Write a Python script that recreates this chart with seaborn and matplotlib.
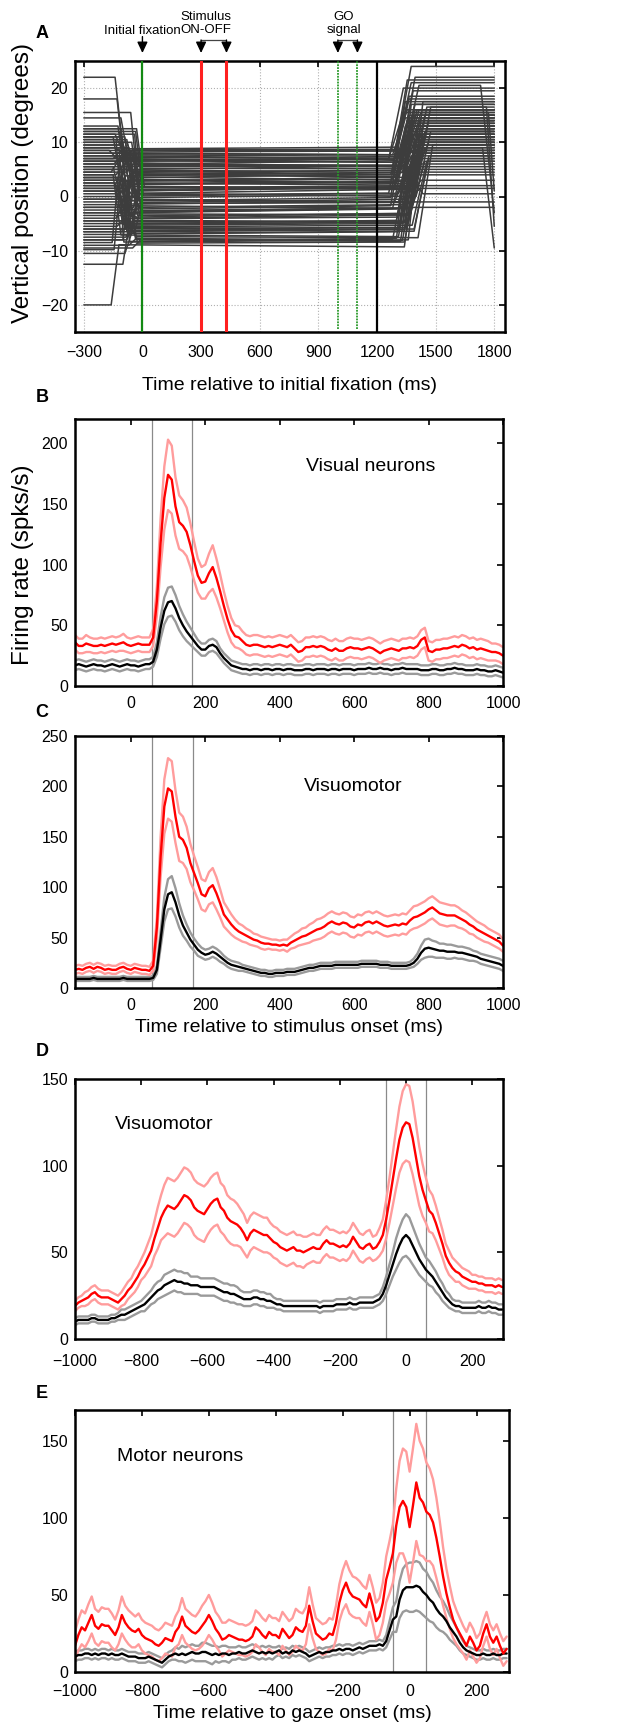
import numpy as np
import pandas as pd
import matplotlib
matplotlib.use("Agg")
import matplotlib.pyplot as plt
import matplotlib.transforms as mtransforms
import seaborn as sns

sns.set_style("white")
plt.rcParams["font.family"] = ["Liberation Sans", "DejaVu Sans"]
plt.rcParams["axes.unicode_minus"] = True
plt.rcParams["text.color"] = "black"
plt.rcParams["axes.labelcolor"] = "black"
plt.rcParams["xtick.color"] = "black"
plt.rcParams["ytick.color"] = "black"

# ---------------- Panel A: eye traces (one entry per trace) ----------------
eye_pre = [22.0, -20.0, 18.0, -12.5, 15.5, 12.0, -10.5, 11.0, 9.0, 14.5,
           -8.0, 6.5, -9.5, 3.0, 11.5, 5.0, -3.0, 2.0, 8.5, -6.5,
           12.5, -4.5, 4.0, 1.0, 10.0, 7.0, -7.5, 13.0, -1.0, 9.5,
           0.0, 6.0, -2.0, 10.5, 3.5, 8.0, -5.5, 11.0, -9.0, 4.5,
           7.5, -6.0, 2.5, 9.0, 1.5, -3.5, 5.5, 12.0, -8.5, 6.5,
           -0.5, 3.5, 8.5, -4.0, 10.0, 0.5, -7.0, 4.0, 7.0, -2.5,
           9.5, 2.0, -5.0, 6.0, 11.5, -1.5, 5.0, -9.8, 3.0, 8.0,
           -3.0, 1.0, 7.5, -6.5, 10.5, 4.5, -0.5, 12.5, 2.5, -4.5,
           6.5, -8.0, 9.0, 1.5, 5.5, -2.0, 11.0, -6.0, 3.5, 7.0]
eye_t_fix = [-140, -160, -130, -100, -60, -120, -90, -150, -70, -110,
             -80, -130, -50, -100, -140, -60, -90, -120, -170, -40,
             -110, -75, -135, -95, -55, -150, -85, -125, -65, -105,
             -45, -145, -115, -80, -100, -60, -130, -90, -70, -160,
             -120, -50, -110, -140, -85, -75, -95, -35, -155, -65,
             -125, -105, -45, -135, -80, -115, -60, -150, -90, -70,
             -100, -130, -55, -120, -40, -110, -85, -145, -75, -95,
             -65, -125, -50, -105, -135, -80, -115, -30, -140, -90,
             -60, -100, -120, -70, -150, -45, -110, -85, -130, -95]
eye_fix = [8.8, -8.9, 5.0, -3.2, 1.3, 7.5, -6.2, 2.8, -0.5, 6.5,
           -4.4, 3.8, -8.0, 0.6, 8.2, -2.0, 4.4, -5.6, 7.0, -1.1,
           2.2, -7.4, 6.0, -3.8, 0.3, 8.5, -5.0, 1.9, -8.6, 4.7,
           -2.6, 7.7, -6.8, 3.2, -0.8, 5.7, -4.1, 1.0, -7.7, 6.8,
           -1.7, 3.5, -5.9, 8.0, -2.9, 4.1, -6.5, 0.1, 7.2, -3.5,
           2.5, -8.3, 5.2, -1.4, 6.2, -4.7, 1.6, -7.1, 8.6, -2.3,
           4.9, -5.3, 0.6, 7.9, -6.9, 3.0, -0.2, 5.5, -7.9, 2.9,
           -4.0, 6.6, -1.3, 4.2, -8.4, 7.3, -3.0, 1.7, -5.1, 5.9,
           -2.7, 3.6, -6.3, 2.4, -0.7, 6.0, -4.6, 1.1, -5.7, 4.6]
eye_fix_drift = [0.3, -0.4, 0.6, -0.2, 0.5, -0.6, 0.2, 0.8, -0.5, 0.4,
                 -0.3, 0.7, 0.1, -0.6, 0.2, 0.5, -0.4, 0.3, -0.7, 0.6,
                 0.4, -0.2, -0.5, 0.7, 0.3, -0.1, 0.6, -0.4, 0.2, -0.6,
                 0.5, -0.3, 0.4, -0.7, 0.6, -0.2, 0.3, 0.8, -0.4, 0.1,
                 -0.5, 0.6, 0.2, -0.3, 0.7, -0.6, 0.4, 0.5, -0.2, 0.3,
                 -0.4, 0.6, -0.1, 0.5, -0.7, 0.2, 0.4, -0.3, 0.1, 0.6,
                 -0.5, 0.3, 0.7, -0.2, 0.4, -0.6, 0.5, 0.2, -0.4, 0.3,
                 0.6, -0.3, 0.2, -0.5, 0.4, -0.2, 0.7, -0.4, 0.3, -0.1,
                 0.5, -0.6, 0.3, 0.4, -0.3, 0.6, -0.2, 0.5, -0.4, 0.2]
eye_t_sac = [1300, 1340, 1280, 1370, 1320, 1260, 1390, 1310, 1350, 1290,
             1360, 1330, 1280, 1400, 1300, 1340, 1270, 1380, 1320, 1350,
             1290, 1410, 1310, 1330, 1260, 1360, 1300, 1380, 1340, 1280,
             1350, 1320, 1390, 1300, 1270, 1340, 1310, 1360, 1330, 1290,
             1370, 1300, 1350, 1280, 1320, 1390, 1340, 1310, 1260, 1360,
             1330, 1300, 1380, 1290, 1350, 1320, 1400, 1310, 1340, 1270,
             1360, 1330, 1290, 1350, 1310, 1380, 1300, 1340, 1320, 1280,
             1370, 1350, 1310, 1290, 1360, 1330, 1300, 1390, 1340, 1320,
             1280, 1350, 1310, 1370, 1330, 1300, 1360, 1290, 1340, 1320]
eye_post = [24.0, 11.0, 21.5, 9.0, 15.0, 20.0, 7.0, 13.5, 3.0, 18.5,
            8.5, 16.0, 5.5, 12.0, 21.0, 10.0, 14.5, 6.5, 17.0, 1.5,
            13.0, 9.5, 19.5, 11.5, 15.5, 8.0, 12.5, 16.5, 4.5, 14.0,
            10.5, 22.0, 7.5, 13.0, 17.5, 9.0, 15.0, 11.0, 6.0, 18.0,
            12.0, 14.0, 8.5, 16.0, -2.0, 10.0, 13.5, 7.0, 15.5, 11.5,
            9.5, 17.0, 12.5, 5.0, 14.5, 10.5, 16.5, 8.0, 20.5, 13.0,
            0.5, 11.0, 15.0, 9.0, 14.0, 12.0, 7.5, 16.0, 10.0, 13.5,
            6.5, 15.5, 11.5, 8.5, 17.5, 12.5, -1.0, 14.0, 9.5, 16.0,
            10.5, 13.0, 4.0, 15.0, 11.0, 12.0, 8.0, 14.5, 2.0, 10.0]
late_idx = [3, 27, 58, 71]
late_t = [1740, 1760, 1730, 1770]
late_end = [-9.5, -5.5, -3.0, 1.0]
A_events = {"fix": 0, "stim_on": 300, "stim_off": 430, "go1": 1000, "go2": 1100, "sacc": 1200}

# ---------------- Panel B: visual neurons, aligned on stimulus ----------------
B_time = np.arange(-150, 1001, 10)
B_red = [36, 33, 33, 35, 34, 33, 33, 34, 33, 34,
         35, 34, 35, 36, 34, 33, 34, 35, 34, 34,
         34, 40, 70, 118, 155, 174, 170, 148, 135, 132,
         127, 116, 103, 91, 85, 86, 93, 98, 89, 78,
         66, 55, 46, 41, 40, 37, 34, 33, 34, 34,
         33, 32, 33, 32, 33, 34, 33, 32, 34, 31,
         28, 29, 32, 32, 33, 32, 33, 32, 30, 29,
         31, 29, 29, 31, 32, 31, 31, 30, 31, 32,
         31, 29, 27, 29, 30, 31, 30, 29, 31, 31,
         32, 31, 33, 38, 40, 29, 28, 30, 30, 31,
         31, 32, 33, 32, 34, 33, 31, 32, 30, 31,
         30, 29, 28, 28, 27, 25]
B_red_sem = [6, 6, 6, 7, 6, 6, 6, 6, 6, 6,
             6, 6, 6, 7, 6, 6, 6, 6, 6, 6,
             6, 7, 12, 20, 26, 29, 28, 24, 22, 21,
             20, 18, 16, 14, 13, 14, 16, 18, 16, 14,
             12, 11, 10, 9, 9, 8, 8, 8, 8, 8,
             8, 8, 8, 8, 8, 8, 8, 8, 8, 8,
             8, 8, 8, 8, 8, 8, 8, 8, 8, 8,
             8, 8, 8, 8, 8, 8, 8, 8, 8, 8,
             8, 8, 8, 8, 8, 8, 8, 8, 8, 8,
             8, 8, 8, 8, 8, 8, 8, 8, 8, 8,
             8, 8, 8, 8, 8, 8, 8, 8, 8, 8,
             8, 8, 7, 7, 7, 7]
B_blk = [17, 18, 17, 16, 17, 18, 17, 17, 16, 17,
         18, 17, 16, 17, 18, 17, 17, 16, 17, 18,
         18, 20, 30, 48, 62, 69, 70, 64, 56, 50,
         45, 41, 37, 33, 30, 30, 33, 34, 32, 27,
         23, 20, 17, 16, 15, 14, 14, 13, 14, 14,
         13, 14, 14, 13, 14, 14, 13, 14, 14, 13,
         13, 13, 14, 14, 13, 14, 14, 14, 13, 14,
         14, 13, 14, 14, 14, 13, 14, 14, 14, 15,
         14, 14, 15, 14, 14, 13, 14, 14, 15, 14,
         14, 14, 14, 13, 13, 13, 14, 14, 13, 13,
         14, 14, 15, 14, 14, 13, 13, 13, 14, 13,
         13, 12, 12, 13, 12, 11]
B_blk_sem = [4, 4, 4, 4, 4, 4, 4, 4, 4, 4,
             4, 4, 4, 4, 4, 4, 4, 4, 4, 4,
             4, 4, 6, 9, 11, 12, 12, 11, 10, 9,
             8, 7, 6, 5, 5, 5, 5, 5, 5, 4,
             4, 4, 4, 4, 4, 4, 4, 4, 4, 4,
             4, 4, 4, 4, 4, 4, 4, 4, 4, 4,
             4, 4, 4, 4, 4, 4, 4, 4, 4, 4,
             4, 4, 4, 4, 4, 4, 4, 4, 4, 4,
             4, 4, 4, 4, 4, 4, 4, 4, 4, 4,
             4, 4, 4, 4, 4, 4, 4, 4, 4, 4,
             4, 4, 4, 4, 4, 4, 4, 4, 4, 4,
             4, 4, 4, 4, 4, 4]

# ---------------- Panel C: visuomotor, aligned on stimulus ----------------
C_time = np.arange(-150, 1001, 10)
C_red = [18, 19, 18, 20, 21, 19, 21, 20, 18, 19,
         18, 18, 20, 21, 19, 18, 20, 19, 18, 18,
         17, 22, 60, 130, 180, 198, 195, 170, 150, 147,
         139, 124, 114, 104, 93, 91, 99, 102, 94, 84,
         73, 68, 63, 59, 56, 54, 52, 50, 48, 47,
         45, 44, 44, 43, 43, 42, 43, 42, 45, 47,
         49, 51, 52, 54, 56, 58, 59, 61, 64, 66,
         64, 63, 65, 64, 61, 60, 63, 62, 65, 66,
         64, 66, 64, 62, 61, 62, 63, 62, 64, 63,
         67, 70, 71, 73, 75, 78, 80, 77, 74, 73,
         72, 72, 72, 70, 68, 66, 63, 61, 58, 56,
         54, 52, 50, 48, 46, 42]
C_red_sem = [4, 4, 4, 4, 4, 4, 4, 4, 4, 4,
             4, 4, 4, 4, 4, 4, 4, 4, 4, 4,
             4, 5, 10, 20, 27, 30, 30, 26, 24, 23,
             21, 19, 17, 16, 15, 15, 16, 17, 16, 14,
             12, 11, 10, 9, 8, 8, 7, 7, 6, 6,
             6, 6, 5, 5, 5, 5, 5, 6, 6, 7,
             7, 8, 8, 9, 9, 10, 10, 10, 10, 10,
             10, 10, 10, 10, 10, 10, 10, 10, 10, 10,
             10, 10, 10, 10, 10, 10, 10, 10, 10, 10,
             10, 11, 11, 11, 11, 11, 11, 11, 11, 11,
             11, 10, 10, 10, 9, 9, 9, 8, 8, 8,
             8, 7, 7, 7, 7, 6]
C_blk = [9, 9, 9, 9, 9, 10, 9, 9, 9, 9,
         9, 9, 9, 10, 9, 9, 9, 9, 9, 9,
         9, 10, 18, 48, 78, 93, 95, 85, 72, 62,
         55, 48, 43, 38, 35, 33, 34, 36, 34, 31,
         28, 25, 23, 22, 21, 20, 19, 18, 17, 16,
         15, 15, 14, 14, 15, 15, 15, 16, 16, 16,
         17, 18, 19, 20, 20, 21, 22, 22, 22, 22,
         23, 23, 23, 23, 23, 23, 23, 24, 24, 24,
         24, 24, 23, 23, 23, 22, 22, 22, 22, 22,
         23, 25, 29, 35, 39, 40, 39, 38, 37, 37,
         36, 36, 36, 35, 35, 34, 33, 32, 31, 29,
         28, 27, 26, 25, 24, 22]
C_blk_sem = [2, 2, 2, 2, 2, 2, 2, 2, 2, 2,
             2, 2, 2, 2, 2, 2, 2, 2, 2, 2,
             2, 2, 4, 8, 12, 15, 16, 14, 12, 10,
             8, 7, 6, 6, 5, 5, 5, 5, 5, 5,
             4, 4, 4, 4, 4, 3, 3, 3, 3, 3,
             3, 3, 3, 3, 3, 3, 3, 3, 3, 3,
             3, 3, 3, 3, 3, 3, 3, 3, 3, 3,
             3, 3, 3, 3, 3, 3, 3, 3, 3, 3,
             3, 3, 3, 3, 3, 3, 3, 3, 3, 3,
             3, 4, 5, 7, 9, 9, 8, 8, 7, 7,
             7, 7, 6, 6, 6, 6, 6, 5, 5, 5,
             5, 5, 5, 5, 5, 5]

# ---------------- Panel D: visuomotor, aligned on gaze ----------------
D_time = np.arange(-1000, 291, 10)
D_red = [19, 21, 22, 23, 24, 26, 27, 25, 24, 24,
         24, 23, 22, 21, 23, 25, 28, 30, 33, 36,
         40, 43, 47, 51, 58, 64, 70, 74, 77, 76,
         75, 77, 80, 83, 82, 80, 76, 74, 73, 72,
         75, 78, 80, 81, 76, 74, 70, 68, 67, 66,
         64, 61, 57, 61, 63, 62, 61, 60, 60, 58,
         56, 55, 53, 52, 51, 52, 53, 51, 51, 50,
         51, 52, 53, 52, 52, 55, 57, 55, 55, 54,
         53, 54, 53, 55, 59, 56, 53, 52, 54, 55,
         52, 53, 56, 60, 69, 80, 92, 104, 115, 122,
         125, 124, 116, 105, 94, 86, 80, 74, 72, 67,
         61, 55, 48, 44, 41, 39, 38, 36, 35, 34,
         33, 33, 32, 32, 31, 31, 31, 30, 31, 30]
D_red_sem = [3, 3, 3, 4, 4, 4, 4, 4, 4, 4,
             4, 4, 4, 4, 4, 5, 5, 5, 6, 6,
             6, 7, 8, 9, 10, 12, 13, 15, 16, 16,
             16, 16, 16, 16, 16, 16, 16, 16, 16, 16,
             15, 15, 15, 15, 14, 14, 13, 13, 13, 12,
             11, 11, 10, 10, 10, 10, 10, 10, 10, 9,
             9, 9, 9, 9, 9, 9, 9, 9, 9, 9,
             8, 8, 8, 8, 8, 8, 8, 8, 8, 8,
             8, 8, 8, 8, 8, 8, 8, 8, 8, 8,
             7, 7, 8, 9, 11, 13, 15, 17, 19, 21,
             22, 22, 21, 19, 17, 15, 13, 12, 11, 10,
             9, 8, 7, 7, 6, 6, 5, 5, 5, 5,
             4, 4, 4, 4, 4, 4, 4, 4, 4, 4]
D_blk = [10, 11, 11, 11, 11, 12, 12, 11, 11, 11,
         11, 12, 12, 13, 14, 14, 15, 16, 17, 18,
         19, 20, 22, 24, 26, 28, 29, 31, 32, 33,
         34, 33, 33, 32, 32, 31, 31, 31, 30, 30,
         30, 30, 30, 29, 28, 27, 27, 26, 26, 25,
         24, 23, 23, 23, 24, 24, 23, 23, 22, 22,
         21, 20, 20, 19, 19, 19, 19, 19, 19, 19,
         19, 19, 19, 19, 18, 19, 19, 19, 19, 20,
         20, 20, 20, 21, 20, 20, 21, 21, 21, 21,
         21, 22, 23, 26, 31, 37, 43, 49, 54, 58,
         60, 58, 54, 50, 46, 43, 40, 38, 36, 33,
         30, 27, 24, 22, 20, 19, 19, 18, 18, 18,
         18, 18, 19, 18, 18, 19, 18, 18, 17, 17]
D_blk_sem = [2, 2, 2, 2, 2, 2, 2, 2, 2, 2,
             2, 2, 2, 2, 3, 3, 3, 3, 3, 3,
             3, 4, 4, 4, 5, 5, 5, 6, 6, 6,
             6, 6, 6, 6, 6, 5, 5, 5, 5, 5,
             5, 5, 5, 5, 5, 5, 5, 5, 5, 5,
             4, 4, 4, 4, 4, 4, 4, 4, 4, 4,
             3, 3, 3, 3, 3, 3, 3, 3, 3, 3,
             3, 3, 3, 3, 3, 3, 3, 3, 3, 3,
             3, 3, 3, 3, 3, 3, 3, 3, 3, 3,
             3, 3, 3, 4, 5, 6, 7, 9, 10, 11,
             12, 12, 11, 10, 9, 8, 7, 7, 6, 6,
             5, 5, 4, 4, 3, 3, 3, 3, 3, 3,
             3, 3, 3, 3, 3, 3, 3, 3, 3, 3]

# ---------------- Panel E: motor neurons, aligned on gaze ----------------
E_time = np.arange(-1000, 291, 10)
E_red = [17, 24, 29, 27, 32, 37, 30, 28, 31, 30,
         30, 27, 24, 29, 37, 32, 29, 27, 26, 28,
         24, 22, 21, 20, 18, 17, 19, 22, 21, 20,
         26, 29, 36, 30, 28, 26, 25, 27, 30, 33,
         37, 33, 28, 25, 21, 22, 24, 23, 22, 21,
         21, 20, 21, 23, 29, 27, 24, 22, 26, 24,
         24, 22, 28, 25, 22, 24, 29, 27, 26, 30,
         43, 33, 25, 23, 21, 22, 25, 24, 32, 45,
         53, 58, 52, 49, 48, 47, 44, 42, 51, 43,
         33, 36, 45, 60, 68, 77, 95, 107, 111, 107,
         94, 108, 123, 113, 110, 104, 102, 97, 87, 75,
         62, 51, 42, 34, 29, 25, 21, 17, 23, 19,
         14, 17, 25, 31, 23, 19, 23, 17, 12, 15]
E_red_sem = [9, 10, 11, 11, 12, 12, 11, 11, 11, 11,
             11, 11, 10, 11, 12, 11, 11, 11, 10, 10,
             10, 10, 10, 10, 10, 10, 10, 10, 10, 10,
             10, 11, 12, 11, 11, 11, 11, 12, 13, 13,
             13, 12, 11, 11, 11, 10, 10, 10, 10, 10,
             10, 10, 10, 10, 11, 11, 11, 11, 11, 11,
             11, 11, 11, 11, 11, 11, 12, 12, 12, 12,
             12, 11, 10, 10, 10, 10, 10, 10, 11, 12,
             13, 14, 14, 13, 13, 12, 12, 12, 12, 12,
             12, 12, 13, 15, 17, 19, 24, 30, 34, 36,
             36, 37, 38, 37, 35, 32, 30, 28, 26, 23,
             19, 16, 14, 12, 11, 10, 9, 9, 9, 9,
             8, 8, 8, 8, 8, 8, 8, 8, 8, 8]
E_blk = [10, 11, 11, 12, 12, 11, 12, 11, 12, 12,
         11, 12, 11, 11, 12, 11, 10, 10, 10, 9,
         9, 9, 10, 9, 8, 7, 6, 8, 10, 11,
         12, 11, 12, 11, 12, 13, 12, 12, 13, 13,
         12, 11, 12, 11, 12, 12, 11, 12, 12, 13,
         12, 12, 13, 14, 13, 12, 13, 12, 13, 12,
         13, 14, 12, 13, 12, 14, 13, 14, 13, 12,
         10, 11, 12, 13, 12, 13, 13, 14, 14, 15,
         14, 15, 15, 14, 15, 16, 15, 16, 17, 17,
         17, 18, 17, 20, 27, 34, 36, 47, 53, 55,
         55, 55, 56, 55, 52, 50, 47, 45, 41, 38,
         36, 33, 29, 26, 23, 19, 16, 14, 13, 12,
         11, 11, 12, 11, 11, 12, 11, 11, 12, 12]
E_blk_sem = [3, 3, 3, 3, 3, 3, 3, 3, 3, 3,
             3, 3, 3, 3, 3, 3, 3, 3, 3, 3,
             3, 3, 3, 3, 3, 3, 3, 3, 3, 3,
             4, 4, 5, 5, 5, 5, 5, 5, 6, 6,
             6, 6, 5, 5, 5, 5, 5, 4, 4, 4,
             4, 4, 4, 4, 4, 4, 4, 4, 4, 4,
             3, 3, 3, 3, 3, 3, 3, 3, 3, 3,
             3, 3, 3, 3, 3, 3, 3, 3, 3, 3,
             3, 3, 3, 3, 3, 3, 3, 3, 3, 3,
             3, 3, 3, 4, 6, 8, 10, 12, 14, 15,
             16, 16, 16, 16, 15, 15, 14, 13, 12, 11,
             10, 9, 8, 7, 6, 5, 4, 3, 3, 3,
             3, 3, 3, 3, 3, 3, 3, 3, 3, 3]

# ---------------- figure ----------------
W, H = 622, 1732
fig = plt.figure(figsize=(W / 100, H / 100), dpi=100)


def px_axes(left, top, right, bottom):
    return fig.add_axes([left / W, 1 - bottom / H, (right - left) / W, (bottom - top) / H])


axA = px_axes(75, 61, 505, 332)
axB = px_axes(75, 419, 503, 686)
axC = px_axes(75, 736, 503, 988)
axD = px_axes(75, 1079, 503, 1339)
axE = px_axes(75, 1410, 509, 1672)

TICK_FS = 11.5
LAB_FS = 14
YLAB_FS = 17.5


def style_axis(ax, xpad, ypad=5):
    for s in ax.spines.values():
        s.set_linewidth(1.8)
        s.set_color("black")
        s.set_visible(True)
    ax.tick_params(axis="both", direction="in", top=True, right=True, length=4,
                   width=1.2, labelsize=TICK_FS, colors="black")
    ax.tick_params(axis="x", pad=xpad)
    ax.tick_params(axis="y", pad=ypad)
    ax.set_xlabel("")
    ax.set_ylabel("")


# ----- Panel A -----
rows = []
for i in range(len(eye_pre)):
    t1, t2 = eye_t_fix[i], eye_t_sac[i]
    ts = [-300, t1, t1 + 40, t2, t2 + 75]
    ys = [eye_pre[i], eye_pre[i], eye_fix[i], eye_fix[i] + eye_fix_drift[i], eye_post[i]]
    if i in late_idx:
        k = late_idx.index(i)
        ts += [late_t[k], 1800]
        ys += [eye_post[i], late_end[k]]
    else:
        ts += [1800]
        ys += [eye_post[i]]
    for t, y in zip(ts, ys):
        rows.append((i, t, y))
eye_df = pd.DataFrame(rows, columns=["trace", "time", "pos"])

axA.set_xlim(-345, 1855)
axA.set_ylim(-25, 25)
axA.set_xticks(np.arange(-300, 1801, 300))
axA.set_yticks([-20, -10, 0, 10, 20])
axA.grid(True, linestyle=":", color="#b0b0b0", linewidth=0.8)
axA.set_axisbelow(True)
sns.lineplot(data=eye_df, x="time", y="pos", units="trace", estimator=None, sort=False,
             color="#3d3d3d", linewidth=1.1, ax=axA, legend=False)
axA.axvline(A_events["fix"], color="#138a13", lw=1.6, zorder=5)
axA.axvline(A_events["stim_on"], color="#ff2020", lw=2.2, zorder=5)
axA.axvline(A_events["stim_off"], color="#ff2020", lw=2.2, zorder=5)
axA.axvline(A_events["go1"], color="#2a9a2a", lw=1.3, ls=(0, (1, 0.6)), ymin=0.01, zorder=5)
axA.axvline(A_events["go2"], color="#2a9a2a", lw=1.3, ls=(0, (1, 0.6)), ymin=0.01, zorder=5)
axA.axvline(A_events["sacc"], color="black", lw=1.6, zorder=5)
style_axis(axA, xpad=9.5)
axA.set_xlabel("Time relative to initial fixation (ms)", fontsize=LAB_FS)
axA.xaxis.set_label_coords(0.5, -0.165)
axA.set_ylabel("Vertical position (degrees)", fontsize=YLAB_FS)
axA.yaxis.set_label_coords(-0.095, 0.548)

trA = mtransforms.blended_transform_factory(axA.transData, axA.transAxes)
y_tip, y_br, y_tail = 1.0295, 1.0775, 1.090
arrow_kw = dict(arrowstyle="-|>,head_length=0.55,head_width=0.26", color="black",
                lw=1.0, mutation_scale=12, shrinkA=0, shrinkB=0)
axA.annotate("", xy=(A_events["fix"], y_tip), xytext=(A_events["fix"], y_tail),
             xycoords=trA, textcoords=trA, arrowprops=arrow_kw, annotation_clip=False)
for a, b in [(A_events["stim_on"], A_events["stim_off"]), (A_events["go1"], A_events["go2"])]:
    axA.plot([a, b], [y_br, y_br], transform=trA, color="#444444", lw=0.9, clip_on=False)
    for xv in (a, b):
        axA.annotate("", xy=(xv, y_tip), xytext=(xv, y_br), xycoords=trA, textcoords=trA,
                     arrowprops=arrow_kw, annotation_clip=False)
axA.text(2, 1.109, "Initial fixation", transform=trA, ha="center", va="center", fontsize=9.5)
axA.text(325, 1.139, "Stimulus\nON-OFF", transform=trA, ha="center", va="center",
         fontsize=9.5, linespacing=1.15)
axA.text(1030, 1.139, "GO\nsignal", transform=trA, ha="center", va="center",
         fontsize=9.5, linespacing=1.15)

# ----- rate panels -----
PINK, GRAY = "#ff9c9c", "#9a9a9a"


def rate_panel(ax, t, red, red_sem, blk, blk_sem):
    red, red_sem = np.asarray(red, float), np.asarray(red_sem, float)
    blk, blk_sem = np.asarray(blk, float), np.asarray(blk_sem, float)
    for y, c in [(blk + blk_sem, GRAY), (blk - blk_sem, GRAY),
                 (red + red_sem, PINK), (red - red_sem, PINK),
                 (blk, "black"), (red, "#ff0000")]:
        sns.lineplot(x=t, y=y, color=c, linewidth=1.7, ax=ax, estimator=None, legend=False)


rate_panel(axB, B_time, B_red, B_red_sem, B_blk, B_blk_sem)
axB.set_xlim(-150, 1000)
axB.set_ylim(0, 220)
axB.set_xticks(np.arange(0, 1001, 200))
axB.set_yticks(np.arange(0, 201, 50))
for v in (57, 165):
    axB.axvline(v, color="#8a8a8a", lw=0.9, zorder=0)
style_axis(axB, xpad=7.5)
axB.text(471, 181, "Visual neurons", fontsize=LAB_FS, ha="left", va="center")
axB.set_ylabel("Firing rate (spks/s)", fontsize=YLAB_FS)
axB.yaxis.set_label_coords(-0.095, 0.455)

rate_panel(axC, C_time, C_red, C_red_sem, C_blk, C_blk_sem)
axC.set_xlim(-150, 1000)
axC.set_ylim(0, 250)
axC.set_xticks(np.arange(0, 1001, 200))
axC.set_yticks(np.arange(0, 251, 50))
for v in (57, 167):
    axC.axvline(v, color="#8a8a8a", lw=0.9, zorder=0)
style_axis(axC, xpad=7.5)
axC.text(466, 200, "Visuomotor", fontsize=LAB_FS, ha="left", va="center")
axC.set_xlabel("Time relative to stimulus onset (ms)", fontsize=LAB_FS)

rate_panel(axD, D_time, D_red, D_red_sem, D_blk, D_blk_sem)
axD.set_xlim(-1000, 293)
axD.set_ylim(0, 150)
axD.set_xticks(np.arange(-1000, 201, 200))
axD.set_yticks([0, 50, 100, 150])
for v in (-60, 60):
    axD.axvline(v, color="#8a8a8a", lw=0.9, zorder=0)
style_axis(axD, xpad=11)
axD.text(-879, 124, "Visuomotor", fontsize=LAB_FS, ha="left", va="center")

rate_panel(axE, E_time, E_red, E_red_sem, E_blk, E_blk_sem)
axE.set_xlim(-1000, 297)
axE.set_ylim(0, 170)
axE.set_xticks(np.arange(-1000, 201, 200))
axE.set_yticks([0, 50, 100, 150])
for v in (-50, 48):
    axE.axvline(v, color="#8a8a8a", lw=0.9, zorder=0)
style_axis(axE, xpad=9)
axE.text(-874, 140, "Motor neurons", fontsize=LAB_FS, ha="left", va="center")
axE.set_xlabel("Time relative to gaze onset (ms)", fontsize=LAB_FS)

for letter, ypix in [("A", 33), ("B", 398), ("C", 713), ("D", 1052), ("E", 1394)]:
    fig.text(42 / W, 1 - ypix / H, letter, fontsize=13, fontweight="bold",
             ha="center", va="center")

fig.savefig("out.png", dpi=100)
